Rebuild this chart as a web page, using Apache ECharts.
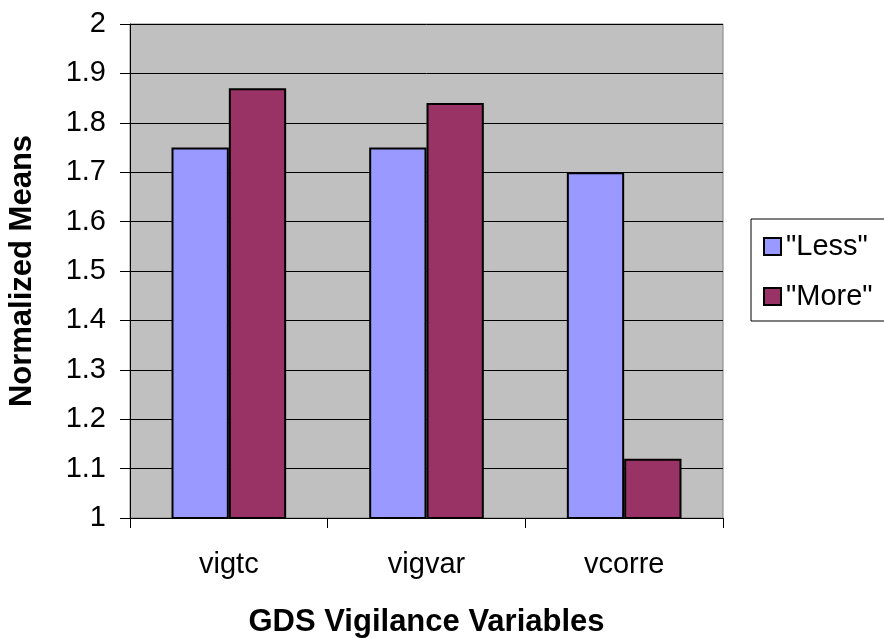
<!DOCTYPE html>
<html><head><meta charset="utf-8">
<script src="https://cdn.jsdelivr.net/npm/echarts@6/dist/echarts.min.js"></script>
<style>html,body{margin:0;padding:0;background:#fff}#c{width:884px;height:638px}</style>
</head><body><div id="c"></div>
<script>
const categories = ["vigtc", "vigvar", "vcorre"];
const lessValues = [1.75, 1.75, 1.70];
const moreValues = [1.87, 1.84, 1.12];
const yTicks = [1, 1.1, 1.2, 1.3, 1.4, 1.5, 1.6, 1.7, 1.8, 1.9, 2];

const font = 'Liberation Sans, Arial, sans-serif';
const chart = echarts.init(document.getElementById('c'));
chart.setOption({
  animation: false,
  grid: {left: 130, top: 24, right: 161, bottom: 120, show: true, containLabel: false, outerBoundsMode: 'none',
         backgroundColor: '#c0c0c0', borderColor: '#808080', borderWidth: 1},
  legend: {
    left: 751, top: 219, orient: 'vertical', itemWidth: 17, itemHeight: 17, itemGap: 21,
    icon: 'rect',
    padding: [13, 40, 10, 12], borderColor: '#000', borderWidth: 1,
    textStyle: {fontFamily: font, fontSize: 29, color: '#000'},
    data: ['"Less"', '"More"']
  },
  xAxis: {
    type: 'category', data: categories,
    axisLine: {lineStyle: {color: '#000', width: 1}},
    axisTick: {show: true, length: 10, lineStyle: {color: '#000'}},
    axisLabel: {fontFamily: font, fontSize: 29, color: '#000', margin: 32},
    name: 'GDS Vigilance Variables', nameLocation: 'middle', nameGap: 89,
    nameTextStyle: {fontFamily: font, fontSize: 31, fontWeight: 'bold', color: '#000'}
  },
  yAxis: {
    type: 'value', min: 1, max: 2, interval: 0.1,
    axisLine: {show: true, lineStyle: {color: '#000', width: 1}},
    axisTick: {show: true, length: 10, lineStyle: {color: '#000'}},
    splitLine: {show: true, lineStyle: {color: '#000', width: 1}},
    axisLabel: {fontFamily: font, fontSize: 29, color: '#000', margin: 24,
      formatter: v => { const t = yTicks.find(x => Math.abs(x - v) < 1e-6); return t === undefined ? '' : String(t); }},
    name: 'Normalized Means', nameLocation: 'middle', nameGap: 92,
    nameTextStyle: {fontFamily: font, fontSize: 31, fontWeight: 'bold', color: '#000'}
  },
  series: [
    {name: '"Less"', type: 'bar', data: lessValues, barGap: '0%', barCategoryGap: '42%',
     itemStyle: {color: '#9999ff', borderColor: '#000', borderWidth: 2}},
    {name: '"More"', type: 'bar', data: moreValues,
     itemStyle: {color: '#993366', borderColor: '#000', borderWidth: 2}}
  ]
});
</script></body></html>
